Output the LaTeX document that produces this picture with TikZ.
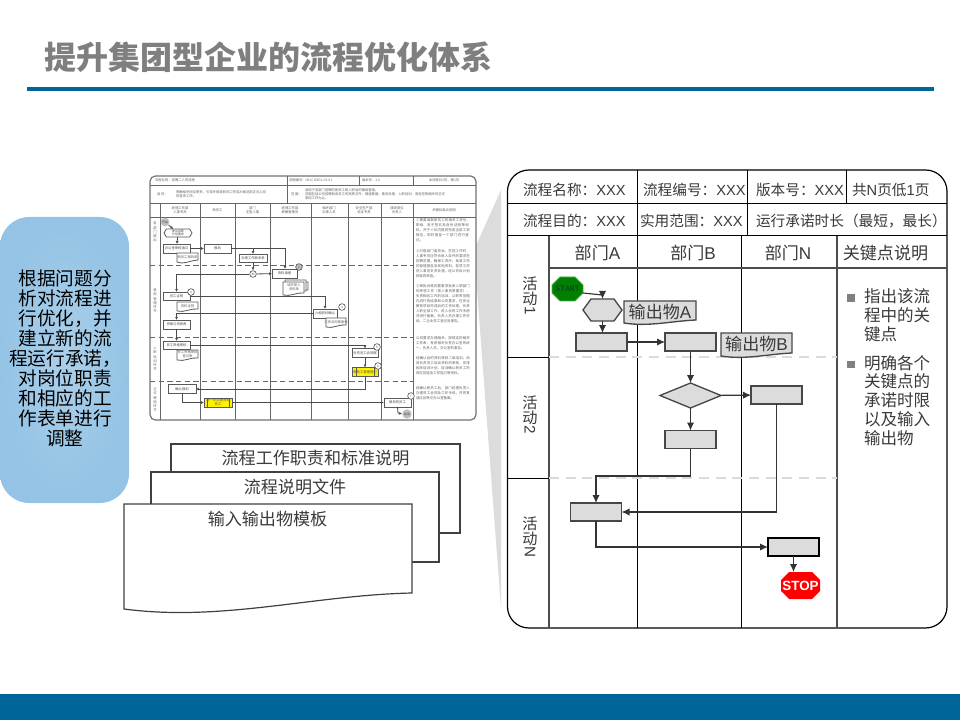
\documentclass[tikz,border=0pt]{standalone}
\usepackage{fontspec}
\setmainfont{Liberation Sans}
\newfontfamily\cjk{Noto Sans CJK SC}
\newfontfamily\startmono{Liberation Mono}
\usetikzlibrary{arrows.meta,shapes.geometric,shapes.misc,shapes.symbols}
\XeTeXlinebreaklocale "zh"
\XeTeXlinebreakskip=0pt plus 1pt
\definecolor{bluebar}{HTML}{006699}
\definecolor{titlegray}{HTML}{7F7F7F}
\definecolor{panelfill}{HTML}{DCDCDC}
\definecolor{txtdark}{HTML}{3A3A3A}
\definecolor{tline}{HTML}{666666}
\newcommand\Cn[1]{{\cjk #1}}
\newcommand\fcolon{{\cjk\char"FF1A\relax}}
\newcommand\fcomma{{\cjk\char"FF0C\relax}}
\newcommand\flparen{{\cjk\char"FF08\relax}}
\newcommand\frparen{{\cjk\char"FF09\relax}}
\newcommand\szA{\fontsize{11}{13}\selectfont}
\newcommand\szB{\fontsize{12.8}{15}\selectfont}
\newcommand\szT{\fontsize{2.5}{3.2}\selectfont}
\newcommand\szV{\fontsize{11.4}{11.25}\selectfont\lineskiplimit=-100pt }
\newcommand\szK{\fontsize{12.4}{14.1}\selectfont\lineskiplimit=-100pt }
\newcommand\szP{\fontsize{2.6}{3.7}\selectfont}
\tikzset{
  lbl/.style={inner sep=0pt,outer sep=0pt,text=txtdark},
  pgrid/.style={draw=black,line width=0.75pt},
  pgridg/.style={draw=black!70,line width=1.1pt},
  pdash/.style={draw=black!14,line width=1.1pt,dash pattern=on 7.5pt off 5pt},
  fbox/.style={draw=black!72,fill=panelfill,line width=1pt,inner sep=0pt,outer sep=0pt},
  fline/.style={draw=black!80,line width=0.85pt,-{Latex[length=6pt,width=5.5pt]}},
  tgrid/.style={draw=tline,line width=0.7pt},
  tdash/.style={draw=tline,line width=0.7pt,dash pattern=on 4pt off 2.5pt},
  tbox/.style={draw=black!65,fill=white,line width=0.65pt,inner sep=0pt,outer sep=0pt,align=center,text=black!70,font=\cjk\szT},
  tline/.style={draw=black!70,line width=0.6pt,-{Latex[length=2.2pt,width=2.2pt]}},
  tdoc/.style={draw=black!65,fill=white,line width=0.6pt},
  tlab/.style={inner sep=0pt,outer sep=0pt,align=center,text=black!62,font=\cjk\szT},
  tpara/.style={inner sep=0pt,outer sep=0pt,anchor=north west,text width=41pt,align=left,text=black!62,font=\cjk\szP},
  tcirc/.style={circle,draw=black!65,fill=white,line width=0.5pt,inner sep=0pt,minimum size=5pt,text=black!70,font=\cjk\fontsize{2.2}{3}\selectfont},
  stackpage/.style={draw=black!75,fill=white,line width=0.9pt},
  stacklab/.style={inner sep=0pt,outer sep=0pt,text=txtdark,font=\cjk\szB},
  bul/.style={rectangle,fill=black!50,inner sep=0pt,minimum size=5.6pt},
  vlab/.style={inner sep=0pt,outer sep=0pt,text=txtdark,anchor=north,align=center,font=\cjk\szV},
}
% x1 y1 x2 yl yr c1y c2y [style]
\newcommand\docshape[8]{\path[#8] (#1,#2) -- (#3,#2) -- (#3,#5) .. controls ({#1+0.66*(#3-#1)},#7) and ({#1+0.34*(#3-#1)},#6) .. (#1,#4) -- cycle;}
% x1 y1 x2 y2 chamfer [style]
\newcommand\octagon[6]{\path[#6] ({#1+#5},#2) -- ({#3-#5},#2) -- (#3,{#2+#5}) -- (#3,{#4-#5}) -- ({#3-#5},#4) -- ({#1+#5},#4) -- (#1,{#4-#5}) -- (#1,{#2+#5}) -- cycle;}
\newcommand\turned[1]{\rotatebox{-90}{\fontspec{Liberation Sans}#1}}
\begin{document}
\begin{tikzpicture}[x=0.75pt,y=-0.75pt]
\useasboundingbox (0,0) rectangle (960,720);
% title and bars
\node[inner sep=0pt,text=titlegray,anchor=west,font=\cjk\bfseries\fontsize{24}{28}\selectfont] (title) at (44,57) {提升集团型企业的流程优化体系};
\fill[bluebar] (27,87) rectangle (934,91);
\fill[bluebar] (0,694) rectangle (960,720);
% left callout
\node[rectangle,rounded corners=22pt,inner sep=0pt,outer sep=0pt,minimum width=129*0.75pt,minimum height=286*0.75pt,
  shade,inner color={rgb,255:red,170;green,207;blue,234},outer color={rgb,255:red,148;green,195;blue,229}] (callout) at (64.5,360) {};
\node[inner sep=0pt,align=center,text=black,font=\cjk\fontsize{14}{15}\selectfont] (calltext) at (65,358) {根据问题分\\析对流程进\\行优化\fcomma 并\\建立新的流\\程运行承诺\fcomma\\对岗位职责\\和相应的工\\作表单进行\\调整};
% funnel
\fill[panelfill] (501,190) -- (474,250) -- (501,608) -- cycle;
% thumbnail
\draw[draw=black!55,fill=white,line width=0.9pt,rounded corners=4pt] (150,176) rectangle (476,420);
\draw[tgrid] (150,185) -- (476,185);
\draw[tgrid] (150,203) -- (476,203);
\draw[tgrid] (150,217) -- (476,217);
\draw[tgrid] (287,176) -- (287,203);
\draw[tgrid] (359,176) -- (359,185);
\draw[tgrid] (413,176) -- (413,185);
\foreach \vx in {160,200,235,270,311,348,381,413} \draw[tgrid] (\vx,203) -- (\vx,420);
\foreach \vy in {265,337,381} \draw[tdash] (150,\vy) -- (413,\vy);
\node[tlab,anchor=west] (th1) at (155,180.5) {流程名称\fcolon 招聘二人的流程};
\node[tlab,anchor=west] (th2) at (289,180.5) {流程编号\fcolon LBJC.BXG1.03-01};
\node[tlab,anchor=west] (th3) at (362,180.5) {版本号\fcolon 1.0};
\node[tlab,anchor=center] (th4) at (444,180.5) {本流程共3页\fcomma 第1页};
\node[tlab,anchor=west] (th5) at (157,194) {目\ 的\fcolon};
\node[tlab,anchor=west,align=left] (th6) at (176,194) {明确相关岗位职责\fcomma 引导并指导新员工完成从候选到正式上岗\\的各项工作。};
\node[tlab,anchor=west] (th7) at (291,194) {范\ 围\fcolon};
\node[tlab,anchor=west,align=left] (th8) at (305,194) {适用于各部门招聘的新员工和人职后的辅助管理。\\范围包括公司招聘和各员工的资质文件、报道数据、事务处理、入职培训、商务控制相关的正式\\录用工作为止。};
\node[tlab] (h1) at (180,210) {经理工作部\\人事专员};
\node[tlab] (h2) at (217.5,210) {新员工};
\node[tlab] (h3) at (252.5,210) {部门\\主管人事};
\node[tlab] (h4) at (290,210) {经理工作部\\薪酬管理员};
\node[tlab] (h5) at (329,210) {相关部门\\办事人员};
\node[tlab] (h6) at (364,210) {安全生产部\\验证专责};
\node[tlab] (h7) at (397,210) {接收岗位\\负责人};
\node[tlab] (h8) at (444,210) {关键标准点说明};
\node[tlab,text width=2.5pt] (l1) at (155,232) {各\\部\\门\\提\\出};
\node[tlab,text width=2.5pt] (l2) at (155,301) {录\\用\\管\\理\\环\\节};
\node[tlab,text width=2.5pt] (l3) at (155,359) {入\\职\\培\\训\\环\\节};
\node[tlab,text width=2.5pt] (l4) at (155,400) {正\\式\\聘\\用\\环\\节};
% thumb right text
\node[tpara] (p1) at (416,219) {①需要填报新员工的相关工资号、职级、电子签名及身份证明等材料\fcomma 并于十日内提供完成全部工资报告\fcomma 同时报至一个部门进行登记。};
\node[tpara] (p2) at (416,250) {②分管部门委员会\fcomma 在招工作时\fcomma 人事专员应符合用人条件的要求在招聘范围\fcomma 确保工资评\fcomma 批准工作的管理报告及其他资料\fcomma 各项工作进入事务负责处理\fcomma 经公司及计划核准的审查。};
\node[tpara] (p3) at (416,285) {③审批合格的要事项及新入职部门的考核工作\flparen 按人事资质要求\frparen\fcomma 负责相应工作的培训\fcomma 以职责范围内进行的结果和公司要求\fcomma 在安全教育项目完成后的工作处理\fcomma 负责入职全部工作\fcomma 进入合同工作手册并进行备案\fcomma 负责人员办理工作手续\fcomma 二企业员工登记及报告。};
\node[tpara] (p4) at (416,337) {公司要求办理相关、按规定的相关工作表\fcomma 考虑相关负责办公室的统一\fcomma 负责人员\fcomma 办公室的事务。};
\node[tpara] (p5) at (416,357) {经确认后的资料转到二级培训\fcomma 由其负责员工培训资料的审核\fcomma 安排相关培训计划\fcomma 培训确认新员工的岗位技能及工作能力等资料。};
\node[tpara] (p6) at (416,387) {经确认新员工后\fcomma 部门经理负责人办理员工合同及工作手续\fcomma 并将其通过后转交办公室备案。};
% thumb nodes
\node[circle,fill=black!25,inner sep=0pt,minimum size=6.5pt,font=\cjk\fontsize{2.2}{3}\selectfont,text=black!70] (tstart) at (165,222) {开始};
\node[signal,signal to=east and west,signal pointer angle=120,draw=black!65,fill=white,line width=0.6pt,inner sep=0pt,outer sep=0pt,minimum width=28*0.75pt,minimum height=8*0.75pt,text=black!70,font=\cjk\fontsize{2.2}{2.6}\selectfont,align=center] (thex) at (178,233) {提出招聘\\计划要求};
\node[tbox,minimum width=27*0.75pt,minimum height=9*0.75pt] (tb1) at (176.5,248.5) {办公室审核通过};
\docshape{177}{253}{198}{262}{260}{265}{260}{tdoc}
\node[tlab] (td1) at (187.5,257.5) {新员工报到单};
\node[tbox,minimum width=27*0.75pt,minimum height=9*0.75pt] (tb2) at (217.5,248.5) {报到};
\node[tbox,minimum width=28*0.75pt,minimum height=8*0.75pt] (tb3) at (253,258) {办理工作联系单};
\node[tcirc] (tc1) at (253,274) {判};
\node[tbox,minimum width=25*0.75pt,minimum height=9*0.75pt] (tb4) at (284.5,273.5) {资料填报};
\node[tcirc,fill=black!25] (tc2) at (299,267) {2};
\docshape{287}{282}{308}{292}{290}{294}{289}{tdoc}
\docshape{285}{280}{306}{293}{291}{295}{290}{tdoc}
\docshape{283}{282}{304}{295}{293}{297}{292}{tdoc}
\node[tlab] (td2) at (294,287) {填写新人\\资料单};
\node[tbox,minimum width=27*0.75pt,minimum height=8*0.75pt] (tb5) at (176.5,296) {员工证明};
\node[tcirc] (tc3) at (191,292) {3};
\docshape{177}{302}{198}{311}{309}{313}{308}{tdoc}
\node[tlab] (td3) at (187.5,306) {资料证明};
\node[tbox,minimum width=27*0.75pt,minimum height=9*0.75pt] (tb6) at (176.5,324.5) {资格与资质表};
\node[tbox,minimum width=27*0.75pt,minimum height=8*0.75pt] (tb7) at (176.5,345) {员工资格审核};
\docshape{177}{350}{198}{360}{358}{362}{357}{tdoc}
\node[tlab] (td4) at (187.5,354.5) {员工资格审核\\登记表};
\node[tbox,minimum width=28*0.75pt,minimum height=9*0.75pt] (tb8) at (182,389) {确认报到};
\node[tbox,fill=yellow,minimum width=28*0.75pt,minimum height=9*0.75pt] (ty1) at (218,402.5) {进一步办理资料\\员工};
\draw[black!65,line width=0.5pt] (207,398) -- (207,407) (229,398) -- (229,407);
\node[tbox,minimum width=24*0.75pt,minimum height=9*0.75pt] (tb9) at (325,313.5) {六相资料确认};
\node[tcirc] (tc4) at (342,307) {4};
\docshape{326}{318}{346}{327}{325}{329}{324}{tdoc}
\node[tlab] (td5) at (336,322) {工资合同报备表};
\node[tbox,minimum width=26*0.75pt,minimum height=9*0.75pt] (tb10) at (365,353) {负责员工合同报};
\node[tcirc] (tc5) at (377,347) {5};
\node[tbox,fill=yellow,minimum width=26*0.75pt,minimum height=9*0.75pt] (ty2) at (365,372) {新员工管理登记};
\draw[black!65,line width=0.5pt] (356,368) -- (356,376.5) (374,368) -- (374,376.5);
\node[tcirc] (tc6) at (378,366) {6};
\node[tbox,minimum width=27*0.75pt,minimum height=9*0.75pt] (tb11) at (397.5,402.5) {报到的员工};
\node[tcirc] (tc7) at (411,396) {7};
\node[circle,fill=black!25,inner sep=0pt,minimum size=7pt,font=\cjk\fontsize{2.2}{3}\selectfont,text=black!70] (tstop) at (407,414) {结束};
% thumb connectors
\draw[tline] (tstart) -- (thex);
\draw[tline] (thex) -- (tb1);
\draw[tline] (tb1) -- (tb2);
\draw[tline] (tb2.east) -| (tb3.north);
\coordinate (tj1) at (285,248.5);
\draw[tline] (tb2.east) -- (tj1) -- (tj1 |- tb4.north);
\draw[tline] (tb3) -- (tc1);
\draw[tline] (tc1) -- (tb4);
\coordinate (tj2) at (176.5,274);
\draw[tline] (tc1) -- (tj2) -- (tb5.north);
\coordinate (tj3) at (325,296);
\draw[tline] (tb5.east) -- (tj3) -- (tb9.north);
\coordinate (tj4) at (176.5,313.5);
\draw[tline] (tb9.west) -- (tj4) -- (tb6.north);
\draw[tline] (tb6) -- (tb7);
\coordinate (tj5) at (365,345);
\draw[tline] (tb7.east) -- (tj5) -- (tb10.north);
\draw[tline] (tb10) -- (ty2);
\draw[tline] (ty2.south) |- (tb8.east);
\draw[tline] (tb8.south) |- (ty1.west);
\draw[tline] (ty1) -- (tb11);
\coordinate (tj6) at (398,413);
\draw[tline] (tb11.south) -- (tj6) -- (tstop.west);
% stacked documents
\path[stackpage] (171,444) rectangle (460,533);
\path[stackpage] (151,472) rectangle (439,562);
\docshape{124}{504}{412}{609}{593}{622}{595}{stackpage}
\node[stacklab] (s1) at (315.5,458) {流程工作职责和标准说明};
\node[stacklab] (s2) at (295,487) {流程说明文件};
\node[stacklab] (s3) at (267.5,519) {输入输出物模板};
% main panel
\draw[draw=black,fill=white,line width=0.9pt,rounded corners=16pt] (507.5,170) rectangle (947,628);
\draw[pgrid] (507.5,204) -- (947,204);
\draw[pgrid] (507.5,236) -- (947,236);
\draw[pgrid] (637,170) -- (637,236);
\draw[pgrid] (747,170) -- (747,236);
\draw[pgrid] (846,170) -- (846,204);
\draw[pgridg] (549,236) -- (549,628);
\draw[pgrid] (637,236) -- (637,628);
\draw[pgrid] (741,236) -- (741,628);
\draw[pgridg] (837,236) -- (837,628);
\draw[pgridg] (549,268) -- (947,268);
\draw[pgrid] (507.5,357) -- (549,357);
\draw[pgrid] (507.5,478) -- (549,478);
\draw[pdash] (549,357) -- (837,357);
\draw[pdash] (549,478) -- (837,478);
% header texts
\node[lbl,anchor=west,font=\szA] (t1) at (523,189.5) {\Cn{流程名称}\fcolon XXX};
\node[lbl,anchor=west,font=\szA] (t2) at (643,189.5) {\Cn{流程编号}\fcolon XXX};
\node[lbl,anchor=west,font=\szA] (t3) at (756,189.5) {\Cn{版本号}\fcolon XXX};
\node[lbl,anchor=west,font=\szA] (t4) at (852,189.5) {\Cn{共}N\Cn{页低}1\Cn{页}};
\node[lbl,anchor=west,font=\szA] (t5) at (523,221) {\Cn{流程目的}\fcolon XXX};
\node[lbl,anchor=west,font=\szA] (t6) at (640,221) {\Cn{实用范围}\fcolon XXX};
\node[lbl,anchor=west,font=\cjk\szA] (t7) at (756,221) {运行承诺时长\flparen 最短\fcomma 最长\frparen};
\node[lbl,font=\szB] (c1) at (597.5,253) {\Cn{部门}A};
\node[lbl,font=\szB] (c2) at (693,253) {\Cn{部门}B};
\node[lbl,font=\szB] (c3) at (788,253) {\Cn{部门}N};
\node[lbl,font=\cjk\szB] (c4) at (885.5,253) {关键点说明};
\node[vlab] (r1) at (530,277) {活\\动\\[-9.7pt]\turned{1}};
\node[vlab] (r2) at (530,396) {活\\动\\[-9.7pt]\turned{2}};
\node[vlab] (r3) at (530,517) {活\\动\\[-9.7pt]\turned{N}};
\node[bul] (bu1) at (851,298) {};
\node[lbl,anchor=north west,align=left,font=\cjk\szK] (kt1) at (864,289) {指出该流\\程中的关\\键点};
\node[bul] (bu2) at (851,364.5) {};
\node[lbl,anchor=north west,align=left,font=\cjk\szK] (kt2) at (864,355) {明确各个\\关键点的\\承诺时限\\以及输入\\输出物};
% flow nodes
\octagon{552}{277}{583}{301}{8}{draw=green!55!black!70,fill={rgb,255:red,0;green,128;blue,0},line width=0.7pt}
\node[inner sep=0pt,outer sep=0pt,minimum width=31*0.75pt,minimum height=24*0.75pt,text={rgb,255:red,0;green,60;blue,30},font=\startmono\fontsize{6.2}{7}\selectfont] (start) at (567.5,289) {START};
\node[signal,signal to=east and west,signal pointer angle=108,fbox,minimum width=39*0.75pt,minimum height=22*0.75pt] (hex) at (602.5,310) {};
\node[fbox,minimum width=51*0.75pt,minimum height=18*0.75pt] (b1) at (601.5,342) {};
\node[fbox,minimum width=51*0.75pt,minimum height=18*0.75pt] (b2) at (690.5,342) {};
\node[diamond,fbox,aspect=2.44,minimum width=61*0.75pt,minimum height=25*0.75pt] (dia) at (690.5,395.5) {};
\node[fbox,minimum width=51*0.75pt,minimum height=18*0.75pt] (b3) at (776.5,395) {};
\node[fbox,minimum width=51*0.75pt,minimum height=18*0.75pt] (b4) at (690.5,439.5) {};
\node[fbox,minimum width=51*0.75pt,minimum height=18*0.75pt] (b5) at (596,512) {};
\node[fbox,draw=black,minimum width=51*0.75pt,minimum height=18*0.75pt] (b6) at (793.5,547) {};
\octagon{781}{572}{820}{599}{8}{fill=red}
\node[inner sep=0pt,outer sep=0pt,minimum width=39*0.75pt,minimum height=27*0.75pt,text=white,font=\bfseries\fontsize{10}{11}\selectfont] (stop) at (800.5,585.5) {STOP};
% documents in panel
\docshape{624}{301}{696}{323}{320}{327}{321}{fbox}
\node[lbl,font=\szB] (da) at (660,312) {\Cn{输出物}A};
\docshape{721}{333}{792}{356}{353}{360}{354}{fbox}
\node[lbl,font=\szB] (db) at (756.5,344) {\Cn{输出物}B};
% flow connectors
\coordinate (sj) at (583,293);
\coordinate (sk) at (602.5,295);
\draw[fline] (sj) -- (sk) -- (hex.north);
\draw[fline] (hex.south) -- (hex.south |- b1.north);
\draw[fline] (b1) -- (b2);
\draw[fline] (b2) -- (dia);
\draw[fline] (dia) -- (b3);
\draw[fline] (dia) -- (b4);
\coordinate (fj1) at (596,476);
\draw[fline] (b4.south) |- (fj1) -- (b5.north);
\draw[fline] (b3.south) |- (b5.east);
\draw[fline] (b5.south) |- (b6.west);
\draw[fline] (b6.south) -- (b6.south |- stop.north);
\end{tikzpicture}
\end{document}
